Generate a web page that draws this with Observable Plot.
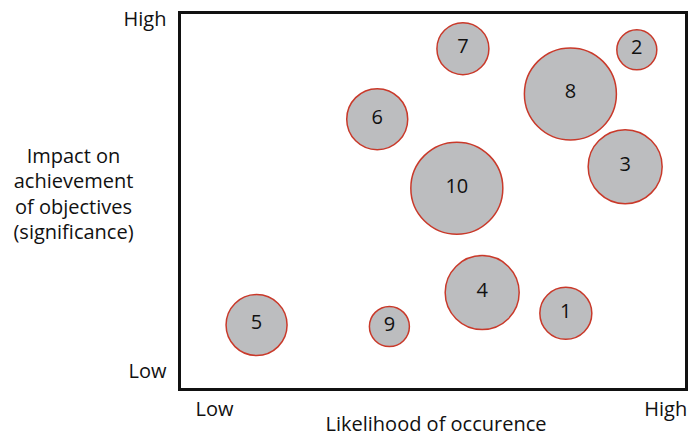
<!DOCTYPE html>
<html>
<head>
<meta charset="utf-8">
<script src="https://cdn.jsdelivr.net/npm/d3@7"></script>
<script src="https://cdn.jsdelivr.net/npm/@observablehq/plot@0.6"></script>
<style>
  html, body { margin: 0; padding: 0; background: #fff; }
  #chart svg { display: block; }
</style>
</head>
<body>
<div id="chart"></div>
<script>
// Risk ids, likelihood (0-100), impact (0-100), bubble size
const risks      = ["1", "2", "3", "4", "5", "6", "7", "8", "9", "10"];
const likelihood = [76.2, 90.2, 87.9, 59.7, 15.2, 39.0, 55.9, 77.1, 41.4, 54.7];
const impact     = [20.2, 90.1, 59.1, 25.7, 17.1, 71.7, 90.4, 78.4, 16.7, 53.4];
const size       = [26, 20, 37, 37, 30.5, 30.5, 26, 46, 20, 46];

// Axis tick labels
const xTickPos = [6.9, 95.9];
const xTickLabels = ["Low", "High"];
const yTickPos = [4.7, 98.0];
const yTickLabels = ["Low", "High"];

const xTitle = "Likelihood of occurence";
const yTitle = "Impact on\nachievement\nof objectives\n(significance)";

const data = risks.map((id, i) => ({id, x: likelihood[i], y: impact[i], s: size[i]}));

const font = "'Open Sans', sans-serif";

const chart = Plot.plot({
  width: 688,
  height: 439,
  marginLeft: 179,
  marginRight: 2,
  marginTop: 12,
  marginBottom: 50,
  style: {fontFamily: font, background: "#fff", color: "#111", overflow: "visible"},
  x: {domain: [0, 100]},
  y: {domain: [0, 100]},
  r: {type: "linear", domain: [0, 46], range: [0, 46]},
  marks: [
    Plot.axisX(xTickPos, {
      tickSize: 0, tickPadding: 12, fontSize: 20,
      tickFormat: (d, i) => xTickLabels[i], label: null
    }),
    Plot.axisY(yTickPos, {
      tickSize: 0, tickPadding: 13, fontSize: 20,
      tickFormat: (d, i) => yTickLabels[i], label: null
    }),
    Plot.dot(data, {
      x: "x", y: "y", r: "s",
      fill: "#bcbdbf", stroke: "#c9392a", strokeWidth: 1.5
    }),
    Plot.text(data, {
      x: "x", y: "y", text: "id", dy: -2,
      fontSize: 20, fill: "#111"
    }),
    Plot.text([yTitle], {
      frameAnchor: "left", dx: -106, dy: -8,
      textAnchor: "middle", lineAnchor: "middle", lineHeight: 1.27,
      fontSize: 20, fill: "#111"
    }),
    Plot.text([xTitle], {
      frameAnchor: "bottom", dx: 3, dy: 41,
      textAnchor: "middle", fontSize: 20, fill: "#111"
    }),
    Plot.frame({stroke: "#111", strokeWidth: 3})
  ]
});

document.getElementById("chart").appendChild(chart);
</script>
</body>
</html>
